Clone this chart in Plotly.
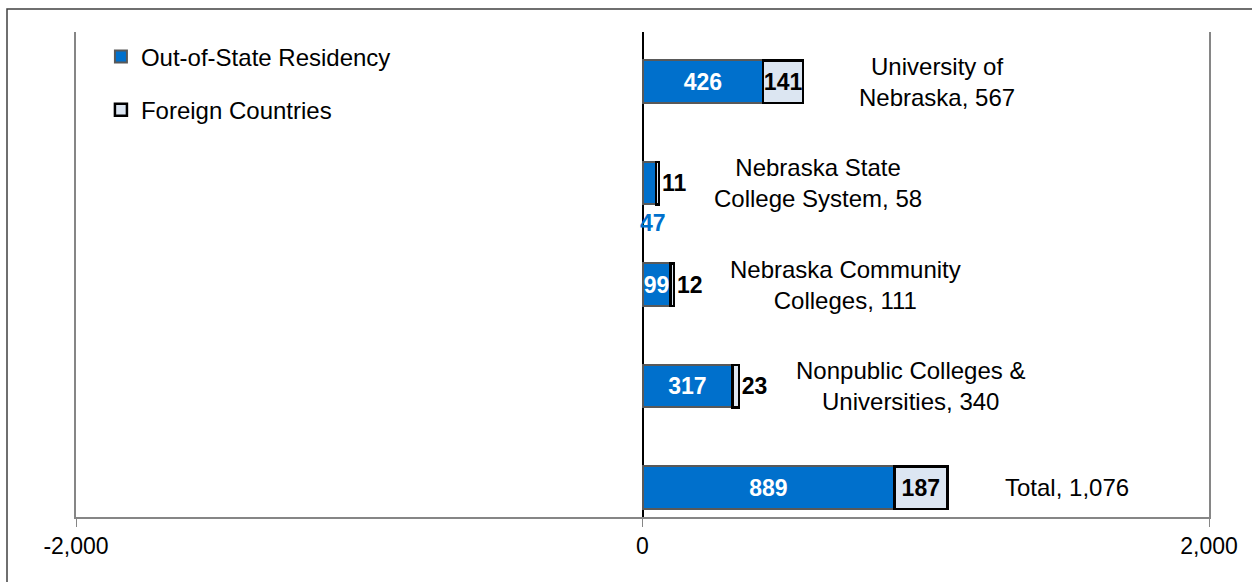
import plotly.graph_objects as go

categories = ["University of Nebraska", "Nebraska State College System",
              "Nebraska Community Colleges", "Nonpublic Colleges & Universities", "Total"]
label_lines = ["University of<br>Nebraska", "Nebraska State<br>College System",
               "Nebraska Community<br>Colleges", "Nonpublic Colleges &<br>Universities", "Total"]
out_of_state = [426, 47, 99, 317, 889]
foreign = [141, 11, 12, 23, 187]
tick_vals = [-2000, 0, 2000]
tick_text = ["-2,000", "0", "2,000"]

totals = [a + b for a, b in zip(out_of_state, foreign)]

FONT = "Liberation Sans, Arial, sans-serif"
FS = 23
FL = 24
BLUE = "#0070CC"
LIGHT = "#DCE6F2"
GRID = "#868686"

# label placement (layout)
label_x = [1041, 621, 717, 946, 1497]
oos_textpos = ["inside", "none", "inside", "inside", "inside"]
for_textpos = ["inside", "outside", "outside", "outside", "inside"]

fig = go.Figure()
fig.add_trace(go.Bar(
    y=categories, x=out_of_state, orientation="h", name="Out-of-State Residency",
    marker=dict(color=BLUE, line=dict(color="#595959", width=2)),
    text=[str(v) for v in out_of_state], textposition=oos_textpos,
    insidetextanchor="middle", textangle=0,
    textfont=dict(family=FONT, size=FS, color="white", weight="bold"),
    width=0.42, legendgroup="a",
))
fig.add_trace(go.Bar(
    y=categories, x=foreign, orientation="h", name="Foreign Countries",
    marker=dict(color=LIGHT, line=dict(color="black", width=2.5)),
    text=[str(v) for v in foreign], textposition=for_textpos,
    insidetextanchor="middle", textangle=0,
    textfont=dict(family=FONT, size=FS, color="black", weight="bold"),
    outsidetextfont=dict(family=FONT, size=FS, color="black", weight="bold"),
    width=0.42, legendgroup="b", cliponaxis=False,
))

annotations = []
for i, cat in enumerate(categories):
    annotations.append(dict(
        x=label_x[i], y=cat, xref="x", yref="y",
        text=f"{label_lines[i]}, {totals[i]:,}", showarrow=False,
        xanchor="center", align="center",
        font=dict(family=FONT, size=FL, color="black"),
    ))
# NSCS out-of-state value shown below the bar
annotations.append(dict(
    x=0, y=categories[1], xref="x", yref="y", xanchor="left",
    text=f"<b>{out_of_state[1]}</b>", showarrow=False, yshift=-40, xshift=-5,
    font=dict(family=FONT, size=FS, color=BLUE),
))

fig.update_layout(
    barmode="stack",
    width=1252, height=582,
    margin=dict(l=76, r=43, t=32, b=65),
    paper_bgcolor="white", plot_bgcolor="white",
    font=dict(family=FONT, size=FS, color="black"),
    uniformtext=dict(mode="show", minsize=FS),
    showlegend=True,
    legend=dict(x=0.022, y=0.995, xanchor="left", yanchor="top",
                traceorder="grouped", tracegroupgap=19,
                font=dict(family=FONT, size=FL, color="black"),
                bgcolor="rgba(0,0,0,0)"),
    xaxis=dict(range=[-2000, 2000], tickvals=tick_vals, ticktext=tick_text,
               showgrid=True, gridcolor=GRID, gridwidth=1,
               zeroline=True, zerolinecolor="black", zerolinewidth=1.5,
               ticks="outside", ticklen=8, tickcolor=GRID,
               showline=True, linecolor=GRID, linewidth=1.5,
               tickfont=dict(family=FONT, size=FS, color="black")),
    yaxis=dict(categoryorder="array", categoryarray=categories,
               range=[4.29, -0.49], showticklabels=False, showgrid=False,
               zeroline=False, showline=True, mirror=True, linecolor=GRID,
               linewidth=1.5, ticks=""),
    annotations=annotations,
    shapes=[dict(type="rect", xref="paper", yref="paper",
                 x0=(7 - 76) / 1133, x1=(1300 - 76) / 1133,
                 y0=-(650 - 517) / 485, y1=1 + (32 - 9) / 485,
                 line=dict(color="#404040", width=1.5), layer="below")],
)

fig.write_html("out.html", config={"displayModeBar": False},
               post_script="document.body.style.margin='0';")
